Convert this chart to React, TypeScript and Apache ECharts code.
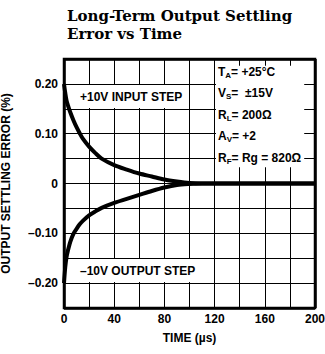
import React, { useEffect, useRef } from 'react';
import * as echarts from 'echarts';

const titleLines = ['Long-Term Output Settling', 'Error vs Time'];
const xAxisName = 'TIME (µs)';
const yAxisName = 'OUTPUT SETTLING ERROR (%)';

const timeUs = [0, 1, 2, 3, 5, 7.5, 10, 12.5, 15, 20, 25, 30, 40, 50, 60, 70, 80, 90, 100, 110, 120, 140, 160, 180, 200];
const inputStepError = [0.2, 0.182, 0.167, 0.158, 0.143, 0.127, 0.113, 0.101, 0.09, 0.074, 0.061, 0.05, 0.037, 0.028, 0.02, 0.014, 0.008, 0.004, 0.001, 0, 0, 0, 0, 0, 0];
const outputStepError = [-0.2, -0.168, -0.148, -0.136, -0.117, -0.101, -0.091, -0.082, -0.075, -0.064, -0.056, -0.049, -0.039, -0.031, -0.023, -0.015, -0.008, -0.003, -0.001, 0, 0, 0, 0, 0, 0];

const xLabelTicks = [0, 40, 80, 120, 160, 200];
const yLabelTicks = [0.2, 0.1, 0, -0.1, -0.2];
const xGridLines = [20, 40, 60, 80, 100, 120, 140, 160, 180];
const yGridLines = [-0.2, -0.15, -0.1, -0.05, 0, 0.05, 0.1, 0.15, 0.2];
const xBorders = [0, 200];
const yBorders = [-0.25, 0.25];

const inputStepLabel = '+10V INPUT STEP';
const outputStepLabel = '–10V OUTPUT STEP';

const conditions: [string, string, string][] = [
  ['T', 'A', '= +25°C'],
  ['V', 'S', '=  ±15V'],
  ['R', 'L', '= 200Ω'],
  ['A', 'V', '= +2'],
  ['R', 'F', '= Rg = 820Ω'],
];

const SANS = '"Liberation Sans", Arial, sans-serif';

function Chart() {
  const ref = useRef<HTMLDivElement>(null);

  useEffect(() => {
    if (!ref.current) return;
    const chart = echarts.init(ref.current, undefined, { renderer: 'svg' });

    const upper = timeUs.map((t, i) => [t, inputStepError[i]]);
    const lower = timeUs.map((t, i) => [t, outputStepError[i]]);

    const labelBox = (text: string, left: number, top: number) => ({
      text,
      left,
      top,
      padding: [5, 4, 5, 3],
      backgroundColor: '#fff',
      textStyle: { fontFamily: SANS, fontWeight: 'bold', fontSize: 12, lineHeight: 13, color: '#000' },
    });

    const gridLineData = [
      ...xGridLines.map((v) => ({ xAxis: v })),
      ...yGridLines.map((v) => ({ yAxis: v })),
      ...xBorders.map((v) => ({ xAxis: v, lineStyle: { width: 2.5 } })),
      ...yBorders.map((v) => ({ yAxis: v, lineStyle: { width: 2.5 } })),
    ];

    const opt: any = {
      animation: false,
      title: [
        {
          text: titleLines.join('\n'),
          left: 62,
          top: 2,
          textStyle: { fontFamily: '"DejaVu Serif", serif', fontWeight: 'bold', fontSize: 15, lineHeight: 18, color: '#000' },
        },
        labelBox(inputStepLabel, 77, 85),
        labelBox(outputStepLabel, 77, 259),
        {
          text: conditions.map((c) => `{m|${c[0]}}{s|${c[1]}}{m|${c[2]}}`).join('\n'),
          left: 216,
          top: 61,
          padding: [0, 3, 2, 2],
          backgroundColor: '#fff',
          textStyle: {
            width: 92,
            color: '#000',
            rich: {
              m: { fontFamily: SANS, fontWeight: 'bold', fontSize: 12, lineHeight: 21.5, color: '#000' },
              s: { fontFamily: SANS, fontWeight: 'bold', fontSize: 8, padding: [7, 0, 0, 0], color: '#000' },
            },
          },
        },
      ],
      grid: {
        left: 64, right: 10, top: 59, bottom: 46,
        show: true, borderColor: '#000', borderWidth: 2.5,
        outerBoundsMode: 'none',
      },
      xAxis: {
        type: 'value',
        min: 0,
        max: 200,
        interval: 20,
        name: xAxisName,
        nameLocation: 'middle',
        nameGap: 24,
        nameTextStyle: { fontFamily: SANS, fontWeight: 'bold', fontSize: 12, color: '#000' },
        axisLine: { show: false },
        axisTick: { show: false },
        splitLine: { show: true, lineStyle: { color: '#000', width: 1 } },
        axisLabel: {
          margin: 5, fontFamily: SANS, fontWeight: 'bold', fontSize: 12, color: '#000',
          formatter: (v: number) => (xLabelTicks.indexOf(Math.round(v)) >= 0 ? String(Math.round(v)) : ''),
        },
      },
      yAxis: {
        type: 'value',
        min: -0.25,
        max: 0.25,
        interval: 0.05,
        name: yAxisName,
        nameLocation: 'middle',
        nameGap: 52,
        nameRotate: 90,
        nameTextStyle: { fontFamily: SANS, fontWeight: 'bold', fontSize: 12, color: '#000' },
        axisLine: { show: false },
        axisTick: { show: false },
        splitLine: { show: true, lineStyle: { color: '#000', width: 1 } },
        axisLabel: {
          margin: 6, fontFamily: SANS, fontWeight: 'bold', fontSize: 12, color: '#000',
          formatter: (v: number) => {
            const k = Math.round(v * 100);
            const match = yLabelTicks.some((t) => Math.round(t * 100) === k);
            if (!match) return '';
            if (k === 0) return '0';
            const s = (Math.abs(k) / 100).toFixed(2);
            return k < 0 ? '–' + s : s;
          },
        },
      },
      series: [
        {
          type: 'line',
          data: upper,
          showSymbol: false,
          lineStyle: { opacity: 0, width: 0 },
          z: 2,
          silent: true,
          markLine: {
            silent: true,
            symbol: ['none', 'none'],
            label: { show: false },
            emphasis: { disabled: true },
            lineStyle: { color: '#000', width: 1, type: 'solid' },
            data: gridLineData,
          },
        },
        { type: 'line', data: upper, smooth: 0.3, showSymbol: false, lineStyle: { color: '#000', width: 4 }, z: 5 },
        { type: 'line', data: lower, smooth: 0.3, showSymbol: false, lineStyle: { color: '#000', width: 4 }, z: 5 },
      ],
    };
    chart.setOption(opt);
    return () => chart.dispose();
  }, []);

  return <div ref={ref} style={{ width: 325, height: 354 }} />;
}

export default function App() {
  return (
    <div style={{ position: 'absolute', left: 0, top: 0, width: 325, height: 354 }}>
      <Chart />
    </div>
  );
}
